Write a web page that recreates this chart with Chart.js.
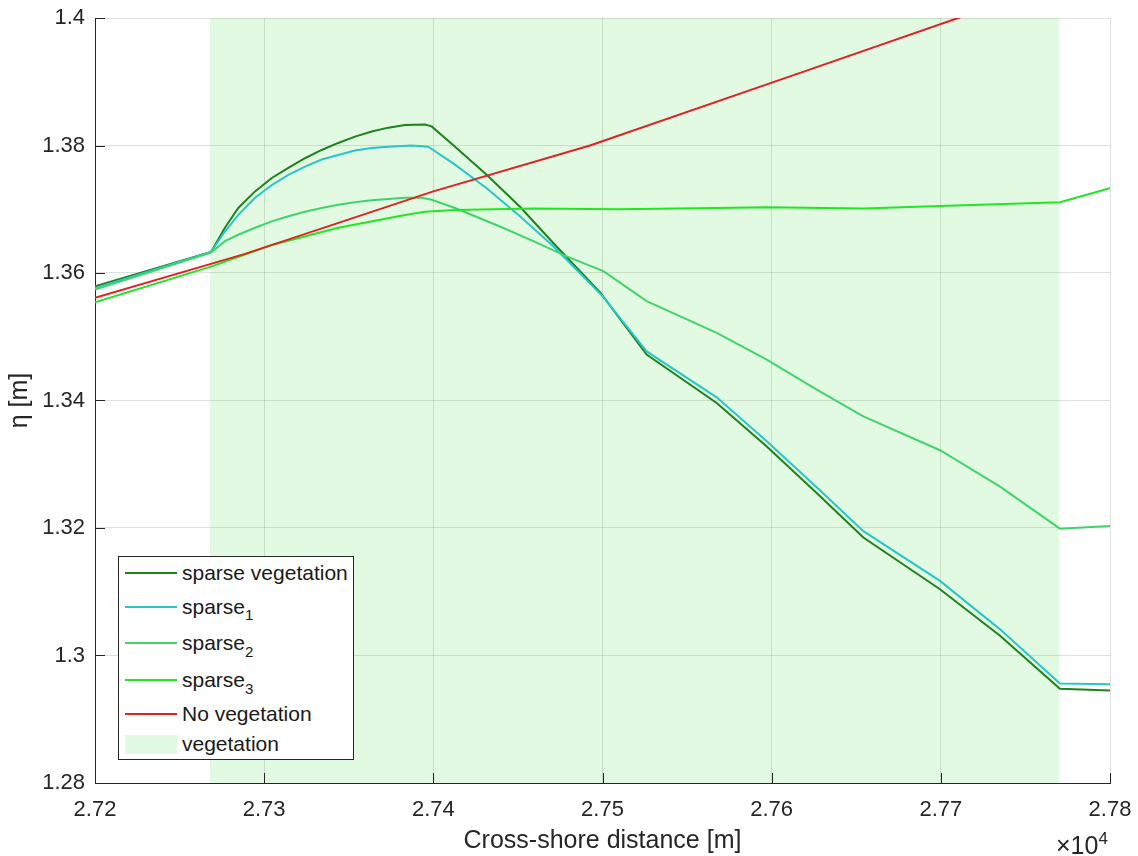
<!DOCTYPE html>
<html><head><meta charset="utf-8">
<script src="https://cdn.jsdelivr.net/npm/chart.js@4"></script>
<style>
html,body{margin:0;padding:0;background:#fff;}
#wrap{position:relative;width:1138px;height:856px;}
canvas{display:block}
#legend{position:absolute;left:118px;top:556px;width:236px;height:204px;box-sizing:border-box;border:1px solid #262626;background:#fff;font-family:"Liberation Sans",Arial,sans-serif;font-size:21px;color:#1a1a1a;}
.row{display:flex;align-items:center;white-space:nowrap;}
.sw{width:52px;margin-left:6px;margin-right:5px;height:2px;flex:none}
.patch{height:19px}
sub{font-size:0.72em;position:relative;top:0.45em;vertical-align:baseline;line-height:0}
</style></head>
<body>
<div id="wrap">
<canvas id="c" width="1138" height="856"></canvas>
<div id="legend"></div>
</div>
<script>
// ---- axis ticks ----
const xTicks = [27200, 27300, 27400, 27500, 27600, 27700, 27800];
const xTickLabels = ['2.72', '2.73', '2.74', '2.75', '2.76', '2.77', '2.78'];
const yTicks = [1.28, 1.3, 1.32, 1.34, 1.36, 1.38, 1.4];
const yTickLabels = ['1.28', '1.3', '1.32', '1.34', '1.36', '1.38', '1.4'];

// ---- vegetation zone ----
const vegStart = 27268;
const vegEnd = 27770;

// ---- series ----
const sparseVegX = [27200, 27268.6, 27276.8, 27284.7, 27294.6, 27304.5, 27314.3, 27324.1, 27334, 27343.8, 27353.7, 27363.6, 27373.4, 27383.3, 27395.1, 27399, 27412, 27431.5, 27451.2, 27470.9, 27498.7, 27526.1, 27567.5, 27597.1, 27626.6, 27654.2, 27699.5, 27735, 27770.4, 27800];
const sparseVegY = [1.3579, 1.3633, 1.3671, 1.3702, 1.3728, 1.3749, 1.3765, 1.3780, 1.3793, 1.3804, 1.3814, 1.3822, 1.3828, 1.3832, 1.3833, 1.3830, 1.3800, 1.3754, 1.3704, 1.3647, 1.3569, 1.3472, 1.3396, 1.3328, 1.3255, 1.3185, 1.3104, 1.3031, 1.2948, 1.2945];

const sparse1X = [27200, 27268.6, 27276.8, 27284.7, 27294.6, 27304.5, 27314.3, 27324.1, 27334, 27343.8, 27353.7, 27363.6, 27373.4, 27387.2, 27397, 27412.8, 27431.5, 27451.2, 27470.9, 27500.3, 27526.1, 27567.5, 27597.1, 27626.6, 27654.2, 27699.5, 27735, 27770.4, 27800];
const sparse1Y = [1.3576, 1.3633, 1.3665, 1.3691, 1.3718, 1.3738, 1.3754, 1.3767, 1.3778, 1.3785, 1.3792, 1.3796, 1.3798, 1.3800, 1.3798, 1.3770, 1.3733, 1.3689, 1.3642, 1.3563, 1.3477, 1.3405, 1.3336, 1.3264, 1.3195, 1.3117, 1.3041, 1.2956, 1.2955];

const sparse2X = [27200, 27268.6, 27276.8, 27284.7, 27294.6, 27304.5, 27314.3, 27324.1, 27334, 27343.8, 27353.7, 27363.6, 27373.4, 27383.3, 27393.1, 27399, 27412.8, 27439.4, 27459.1, 27478.8, 27500.5, 27526.1, 27567.5, 27597.1, 27626.6, 27654.2, 27699.5, 27735, 27770.4, 27800];
const sparse2Y = [1.3574, 1.3632, 1.3650, 1.3660, 1.3671, 1.3681, 1.3689, 1.3696, 1.3702, 1.3707, 1.3711, 1.3714, 1.3716, 1.3718, 1.3718, 1.3715, 1.3702, 1.3673, 1.3650, 1.3626, 1.3603, 1.3556, 1.3506, 1.3464, 1.3417, 1.3375, 1.3322, 1.3265, 1.3199, 1.3203];

const sparse3X = [27200, 27268.6, 27304.5, 27343.8, 27383.3, 27395.1, 27412.8, 27459.1, 27508.4, 27567.5, 27597.1, 27654.2, 27699.5, 27770.4, 27800];
const sparse3Y = [1.3554, 1.3610, 1.3644, 1.3671, 1.3691, 1.3696, 1.3699, 1.3701, 1.3700, 1.3702, 1.3703, 1.3701, 1.3705, 1.3711, 1.3733];

const noVegX = [27200, 27288.7, 27400, 27492.6, 27616.8, 27710.2, 27800];
const noVegY = [1.3561, 1.3630, 1.3728, 1.3800, 1.3914, 1.4000, 1.4082];

const seriesNames = ['sparse vegetation', 'sparse_1', 'sparse_2', 'sparse_3', 'No vegetation'];
const seriesColors = ['rgb(30,130,30)', 'rgb(40,198,200)', 'rgb(66,212,108)', 'rgb(34,230,34)', 'rgb(226,34,34)'];
const vegName = 'vegetation';
const vegColor = 'rgba(0,200,0,0.114)';

const seriesX = [sparseVegX, sparse1X, sparse2X, sparse3X, noVegX];
const seriesY = [sparseVegY, sparse1Y, sparse2Y, sparse3Y, noVegY];

const mk = (xs, ys) => xs.map((x, i) => ({x: x, y: ys[i]}));
const yMin = yTicks[0], yMax = yTicks[yTicks.length - 1];

const datasets = seriesNames.map((n, i) => ({
  label: n.replace('_1', '₁').replace('_2', '₂').replace('_3', '₃'),
  data: mk(seriesX[i], seriesY[i]),
  borderColor: seriesColors[i],
  backgroundColor: seriesColors[i],
  borderWidth: 2,
  pointRadius: 0,
  tension: 0,
  fill: false,
  clip: 0,
  order: 5 - i
}));
datasets.push({
  label: vegName,
  data: [{x: vegStart, y: yMax}, {x: vegEnd, y: yMax}],
  borderWidth: 0,
  borderColor: 'rgba(0,0,0,0)',
  backgroundColor: vegColor,
  pointRadius: 0,
  fill: 'start',
  order: 10
});

const FONT = '"Liberation Sans", Arial, sans-serif';
const AX = '#262626';

const inTicks = {
  id: 'inTicks',
  afterDatasetsDraw(chart) {
    const ctx = chart.ctx, x = chart.scales.x, y = chart.scales.y, a = chart.chartArea;
    ctx.save();
    ctx.strokeStyle = AX; ctx.lineWidth = 1;
    ctx.beginPath();
    xTicks.forEach(v => { const px = Math.round(x.getPixelForValue(v)) + 0.5; ctx.moveTo(px, a.bottom); ctx.lineTo(px, a.bottom - 10); });
    yTicks.forEach(v => { const py = Math.round(y.getPixelForValue(v)) + 0.5; ctx.moveTo(a.left, py); ctx.lineTo(a.left + 10, py); });
    ctx.stroke();
    ctx.fillStyle = AX;
    ctx.textAlign = 'left'; ctx.textBaseline = 'alphabetic';
    ctx.font = '25px ' + FONT;
    ctx.fillText('×10', 1056, 854);
    const w = ctx.measureText('×10').width;
    ctx.font = '17px ' + FONT;
    ctx.fillText('4', 1056 + w, 844);
    ctx.restore();
  }
};

new Chart(document.getElementById('c'), {
  type: 'line',
  data: {datasets: datasets},
  plugins: [inTicks],
  options: {
    responsive: false,
    animation: false,
    devicePixelRatio: 1,
    layout: {padding: {left: 0, right: 28, top: 18, bottom: 0}},
    plugins: {legend: {display: false}, tooltip: {enabled: false}},
    scales: {
      x: {
        type: 'linear', min: xTicks[0], max: xTicks[xTicks.length - 1],
        afterBuildTicks: s => { s.ticks = xTicks.map(v => ({value: v})); },
        afterFit: s => { s.height = 73; s.paddingLeft = 0; s.paddingRight = 0; },
        ticks: {
          autoSkip: false, maxRotation: 0, padding: 14, color: AX,
          font: {family: FONT, size: 22},
          callback: v => xTickLabels[xTicks.indexOf(v)]
        },
        grid: {color: 'rgba(38,38,38,0.15)', lineWidth: 1, drawTicks: false},
        border: {color: AX, width: 1},
        title: {display: true, text: 'Cross-shore distance [m]', color: AX, font: {family: FONT, size: 25}, padding: {top: 0, bottom: 0}}
      },
      y: {
        type: 'linear', min: yMin, max: yMax,
        afterBuildTicks: s => { s.ticks = yTicks.map(v => ({value: v})); },
        afterFit: s => { s.width = 95; s.paddingTop = 0; s.paddingBottom = 0; },
        ticks: {
          autoSkip: false, padding: 10, color: AX,
          font: {family: FONT, size: 22},
          callback: v => yTickLabels[yTicks.findIndex(t => Math.abs(t - v) < 1e-9)]
        },
        grid: {color: 'rgba(38,38,38,0.15)', lineWidth: 1, drawTicks: false},
        border: {color: AX, width: 1},
        title: {display: true, text: 'η [m]', color: AX, font: {family: FONT, size: 25}, padding: {top: 5, bottom: 0}}
      }
    }
  }
});

// ---- legend (HTML overlay) ----
const rowHeights = [32, 35, 38, 36, 31, 30];
const lg = document.getElementById('legend');
const html = [];
seriesNames.forEach((n, i) => {
  const label = n.replace(/_(\d)/, '<sub>$1</sub>');
  html.push('<div class="row" style="height:' + rowHeights[i] + 'px"><div class="sw" style="background:' + seriesColors[i] + '"></div><span>' + label + '</span></div>');
});
html.push('<div class="row" style="height:' + rowHeights[5] + 'px"><div class="sw patch" style="background:rgb(226,250,226)"></div><span>' + vegName + '</span></div>');
lg.innerHTML = html.join('');
</script>
</body></html>
